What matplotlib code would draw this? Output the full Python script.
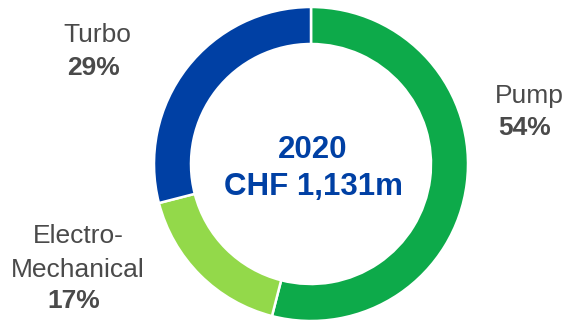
import matplotlib
matplotlib.use("Agg")
import matplotlib.pyplot as plt

plt.rcParams["font.family"] = ["Liberation Sans", "DejaVu Sans"]

# Data
segments = ["Pump", "Electro-Mechanical", "Turbo"]
shares = [54, 17, 29]
colors = ["#0DAA4A", "#93D94A", "#0040A4"]
year_label = "2020"
total_label = "CHF 1,131m"

W, H = 566, 322
fig = plt.figure(figsize=(W / 100, H / 100), dpi=100)
ax = fig.add_axes([0, 0, 1, 1])
ax.set_xlim(0, W)
ax.set_ylim(0, H)
ax.set_aspect("equal")
ax.axis("off")

# donut, pixel-like coordinates (y measured from the bottom)
ax.pie(shares, colors=colors, startangle=90, counterclock=False,
       center=(311, H - 164), radius=157,
       wedgeprops=dict(width=37, edgecolor="white", linewidth=1.8))
ax.set_xlim(0, W)
ax.set_ylim(0, H)

gray = "#4A4A4A"
blue = "#0040A4"

# centre text
ax.text(313, H - 158, year_label, ha="center", va="baseline",
        fontsize=22.5, fontweight="bold", color=blue)
ax.text(313, H - 195, total_label, ha="center", va="baseline",
        fontsize=22.5, fontweight="bold", color=blue)

# labels
ax.text(97, H - 42, "Turbo", ha="center", va="baseline", fontsize=19, color=gray)
ax.text(93, H - 75, f"{shares[2]}%", ha="center", va="baseline",
        fontsize=19, fontweight="bold", color=gray)

ax.text(495, H - 103, "Pump", ha="left", va="baseline", fontsize=19, color=gray)
ax.text(498, H - 135, f"{shares[0]}%", ha="left", va="baseline",
        fontsize=19, fontweight="bold", color=gray)

ax.text(78, H - 243, "Electro-", ha="center", va="baseline", fontsize=19, color=gray)
ax.text(77.5, H - 277, "Mechanical", ha="center", va="baseline", fontsize=19, color=gray)
ax.text(74, H - 308, f"{shares[1]}%", ha="center", va="baseline",
        fontsize=19, fontweight="bold", color=gray)

fig.savefig("out.png", dpi=100, facecolor="white")
